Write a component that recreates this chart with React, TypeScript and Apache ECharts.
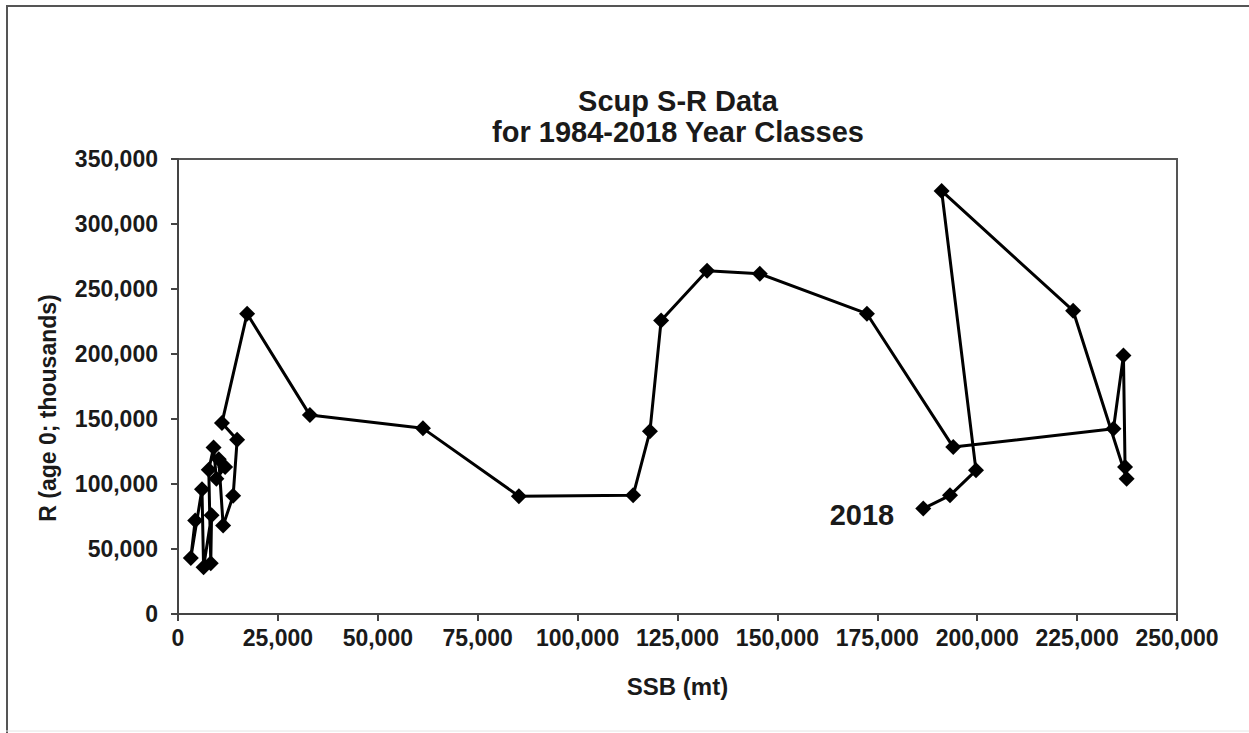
import React, { useEffect, useRef } from "react";
import * as echarts from "echarts";

// Year classes 1984-2018
const years: number[] = [
  1984, 1985, 1986, 1987, 1988, 1989, 1990, 1991, 1992, 1993, 1994, 1995,
  1996, 1997, 1998, 1999, 2000, 2001, 2002, 2003, 2004, 2005, 2006, 2007,
  2008, 2009, 2010, 2011, 2012, 2013, 2014, 2015, 2016, 2017, 2018,
];
// SSB (mt)
const ssb: number[] = [
  4300, 3200, 6000, 6400, 8400, 8200, 7700, 8900, 9600, 11800, 10200, 11300,
  13800, 14800, 11000, 17300, 33000, 61300, 85300, 113900, 118100, 120900,
  132400, 145600, 172400, 194000, 234100, 236600, 237000, 237400, 224000,
  191100, 199700, 193200, 186500,
];
// R (age 0; thousands)
const recruits: number[] = [
  72000, 43000, 96000, 36000, 76000, 39000, 111000, 128000, 104000, 113000,
  119000, 68000, 91000, 134000, 147000, 231000, 153000, 142800, 90600, 91300,
  140500, 225700, 264000, 261700, 231000, 128400, 142500, 198800, 113000,
  104100, 233300, 325400, 110500, 91300, 81100,
];

const xTicks = { min: 0, max: 250000, interval: 25000 };
const yTicks = { min: 0, max: 350000, interval: 50000 };

const titleLines: string[] = ["Scup S-R Data", "for 1984-2018 Year Classes"];
const xName = "SSB (mt)";
const yName = "R (age 0; thousands)";
const lastLabel = "2018";

const FONT = "'Liberation Sans', Arial, sans-serif";
const fmt = (v: number) => v.toLocaleString("en-US");

export default function App() {
  const ref = useRef<HTMLDivElement>(null);

  useEffect(() => {
    if (!ref.current) return;
    const chart = echarts.init(ref.current, null, { renderer: "svg" });

    const data = ssb.map((x, i) => {
      const item: any = { value: [x, recruits[i]], name: String(years[i]) };
      if (i === ssb.length - 1) {
        item.label = {
          show: true,
          formatter: lastLabel,
          position: "left",
          distance: 21,
          offset: [0, 6],
          fontFamily: FONT,
          fontWeight: "bold",
          fontSize: 29,
          color: "#1a1a1a",
        };
      }
      return item;
    });

    chart.setOption({
      animation: false,
      backgroundColor: "#ffffff",
      title: {
        text: titleLines.join("\n"),
        left: 673,
        top: 80,
        textAlign: "center",
        textStyle: {
          fontFamily: FONT,
          fontWeight: "bold",
          fontSize: 29,
          lineHeight: 31,
          color: "#1a1a1a",
        },
      },
      grid: {
        left: 178,
        top: 159,
        right: 72,
        bottom: 119,
        show: true,
        borderColor: "#555",
        borderWidth: 2,
        containLabel: false,
      },
      xAxis: {
        type: "value",
        min: xTicks.min,
        max: xTicks.max,
        interval: xTicks.interval,
        name: xName,
        nameLocation: "middle",
        nameGap: 60,
        nameTextStyle: {
          fontFamily: FONT,
          fontWeight: "bold",
          fontSize: 24,
          color: "#1a1a1a",
        },
        axisLine: { show: true, lineStyle: { color: "#444", width: 2 } },
        axisTick: { show: true, inside: false, length: 7, lineStyle: { color: "#444", width: 2 } },
        splitLine: { show: false },
        axisLabel: {
          formatter: fmt,
          margin: 12,
          fontFamily: FONT,
          fontWeight: "bold",
          fontSize: 23,
          color: "#1a1a1a",
        },
      },
      yAxis: {
        type: "value",
        min: yTicks.min,
        max: yTicks.max,
        interval: yTicks.interval,
        axisLine: { show: true, lineStyle: { color: "#444", width: 2 } },
        axisTick: { show: true, inside: false, length: 7, lineStyle: { color: "#444", width: 2 } },
        splitLine: { show: false },
        axisLabel: {
          formatter: fmt,
          margin: 20,
          fontFamily: FONT,
          fontWeight: "bold",
          fontSize: 23,
          color: "#1a1a1a",
        },
      },
      graphic: [
        {
          type: "line",
          shape: { x1: 7, y1: 6, x2: 7, y2: 733 },
          style: { stroke: "#555", lineWidth: 2 },
        },
        {
          type: "line",
          shape: { x1: 6, y1: 6, x2: 1249, y2: 6 },
          style: { stroke: "#555", lineWidth: 2 },
        },
        {
          type: "line",
          shape: { x1: 6, y1: 731, x2: 1249, y2: 731 },
          style: { stroke: "#e4e4e4", lineWidth: 1 },
        },
        {
          type: "text",
          x: 48,
          y: 408,
          rotation: Math.PI / 2,
          style: {
            text: yName,
            fontFamily: FONT,
            fontWeight: "bold",
            fontSize: 23,
            fill: "#1a1a1a",
            align: "center",
            verticalAlign: "middle",
          },
        },
      ],
      series: [
        {
          type: "line",
          data,
          symbol: "diamond",
          symbolSize: 16,
          itemStyle: { color: "#000" },
          lineStyle: { color: "#000", width: 3 },
          z: 3,
        },
      ],
    });

    return () => chart.dispose();
  }, []);

  return (
    <div
      ref={ref}
      style={{ position: "fixed", left: 0, top: 0, width: 1249, height: 733 }}
    />
  );
}
